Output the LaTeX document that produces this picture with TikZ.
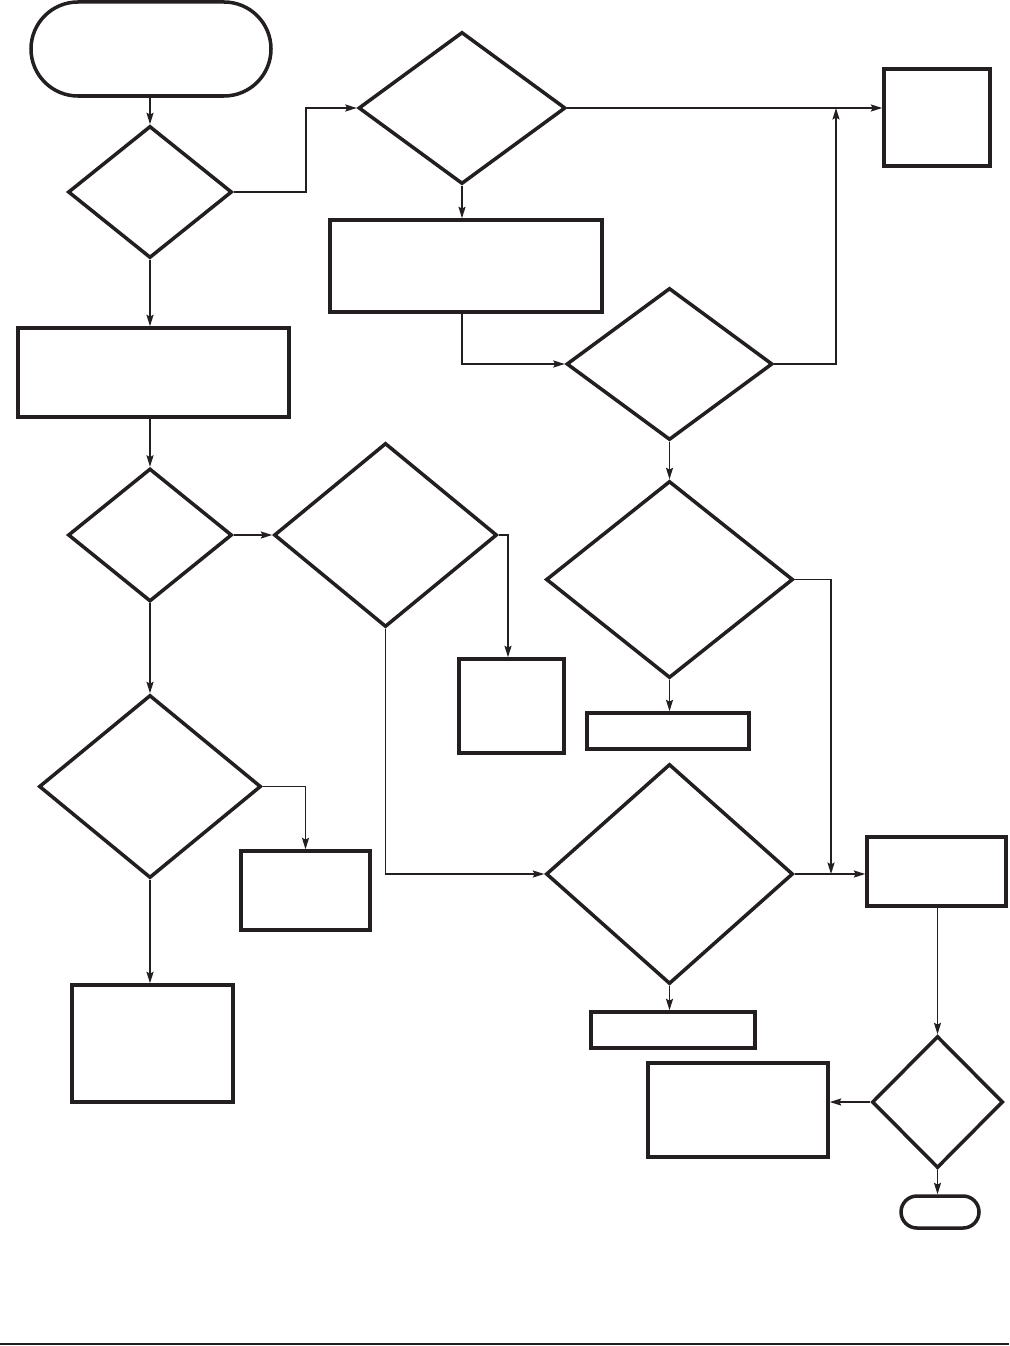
\documentclass[tikz,border=0pt]{standalone}
\usepackage{xcolor}
\usepackage{tikz}
\usetikzlibrary{arrows.meta, shapes.geometric}
\definecolor{inkGrey}{HTML}{231F20}

\begin{document}
\begin{tikzpicture}[
    x=0.2mm, y=-0.2mm,
    box/.style={draw=inkGrey, line width=2pt, rectangle, inner sep=0pt},
    term/.style={box, rounded corners=#1},
    decide/.style={draw=inkGrey, line width=2pt, diamond, inner sep=0pt},
    arr/.style={-{Stealth[length=6.5pt, width=4pt, inset=1pt]}, line width=0.9pt, inkGrey},
    link/.style={line width=0.9pt, inkGrey}]
    \useasboundingbox (0,0) rectangle (1009,1346);
    % left column
    \node[term=9.4mm, minimum width=48mm, minimum height=18.8mm] (start) at (151,49) {};
    \node[decide, minimum width=32.8mm, minimum height=26.4mm] (chkA) at (150,192) {};
    \node[box, minimum width=54.2mm, minimum height=17.8mm] (procA) at (153.5,372.5) {};
    \node[decide, minimum width=32.8mm, minimum height=26.6mm] (chkD) at (150,535) {};
    \node[decide, minimum width=44.4mm, minimum height=36.6mm] (chkF) at (150,786.5) {};
    \node[box, minimum width=25.8mm, minimum height=15.8mm] (procF) at (305.5,890.5) {};
    \node[box, minimum width=32.2mm, minimum height=23.4mm] (procG) at (152.5,1043.5) {};
    % middle column
    \node[decide, minimum width=41.4mm, minimum height=30.4mm] (chkB) at (462,108) {};
    \node[box, minimum width=54.4mm, minimum height=18.4mm] (procB) at (466,266) {};
    \node[decide, minimum width=44.6mm, minimum height=36.8mm] (chkE) at (385.5,535) {};
    \node[box, minimum width=21mm, minimum height=18.8mm] (procE) at (511.5,706) {};
    \node[decide, minimum width=41.2mm, minimum height=30.4mm] (chkC) at (669.5,364) {};
    \node[decide, minimum width=49.4mm, minimum height=39.4mm] (chkG) at (669.5,579.5) {};
    \node[box, minimum width=32.4mm, minimum height=7.2mm] (noteG) at (668,731) {};
    \node[decide, minimum width=49.4mm, minimum height=44mm] (chkH) at (669.5,874) {};
    \node[box, minimum width=32.8mm, minimum height=7.2mm] (noteH) at (673,1030) {};
    \node[box, minimum width=36mm, minimum height=18.8mm] (procK) at (738,1110) {};
    % right column
    \node[box, minimum width=21.2mm, minimum height=19.4mm] (procTR) at (937,117.5) {};
    \node[box, minimum width=27.8mm, minimum height=13.8mm] (procH) at (936.5,871.5) {};
    \node[decide, minimum width=26.2mm, minimum height=26.4mm] (chkI) at (937.5,1102) {};
    \node[term=3.2mm, minimum width=15.6mm, minimum height=6.4mm] (stop) at (940,1212) {};
    \coordinate (joinA) at (836,108);
    \coordinate (joinB) at (831,874);

    \draw[arr] (chkA.north |- start.south) -- (chkA.north);
    \draw[arr] (chkA.east) -- ++(72,0) |- (chkB.west);
    \draw[arr] (chkA.south) -- (chkA.south |- procA.north);
    \draw[arr] (chkD.north |- procA.south) -- (chkD.north);
    \draw[arr] (chkD.east) -- (chkE.west);
    \draw[arr] (chkD.south) -- (chkF.north);
    \draw[arr] (chkF.east) -| (procF.north);
    \draw[arr] (chkF.south) -- (chkF.south |- procG.north);
    \draw[arr] (chkE.east) -| ([xshift=-0.7mm]procE.north);
    \draw[arr] (chkE.south) |- (chkH.west);
    \draw[arr] (chkB.south) -- (chkB.south |- procB.north);
    \draw[arr] (chkB.east) -- (chkB.east -| procTR.west);
    \draw[arr] (chkB.south |- procB.south) |- (chkC.west);
    \draw[arr] (chkC.east) -| (joinA);
    \draw[arr] (chkC.south) -- (chkG.north);
    \draw[arr] (chkG.south) -- (chkG.south |- noteG.north);
    \draw[arr] (chkG.east) -| (joinB);
    \draw[arr] (chkH.east) -- (chkH.east -| procH.west);
    \draw[arr] (chkH.south) -- (chkH.south |- noteH.north);
    \draw[arr] (chkI.north |- procH.south) -- (chkI.north);
    \draw[arr] (chkI.west) -- (chkI.west -| procK.east);
    \draw[arr] (chkI.south) -- (chkI.south |- stop.north);
    \draw[link, line width=1.2pt] (0,1344) -- (1009,1344);
\end{tikzpicture}
\end{document}
